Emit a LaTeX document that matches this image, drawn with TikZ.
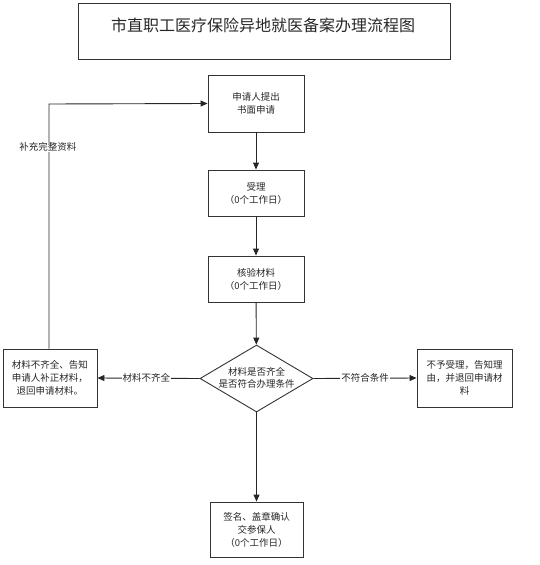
\documentclass[tikz,border=0pt]{standalone}
\usepackage{fontspec}
\setmainfont{Noto Sans CJK SC}
\usetikzlibrary{arrows.meta,shapes.geometric}
\begin{document}
\begin{tikzpicture}[x=1pt,y=-1pt,
  box/.style={draw=black!80,line width=0.9pt,inner sep=0pt,align=center,font=\fontsize{9.5}{13}\selectfont,text=black!85},
  conn/.style={draw=black!85,line width=0.9pt},
  arr/.style={conn,-{Triangle[length=7pt,width=6pt]}},
  lbl/.style={fill=white,inner sep=1pt,font=\fontsize{9.5}{12}\selectfont,text=black!85}]
\useasboundingbox (0,0) rectangle (539,565);
\node[box,minimum width=372pt,minimum height=56pt] (title) at (264,31) {};
\node[font=\fontsize{16}{20}\selectfont,text=black!85] (titletext) at (263,25) {市直职工医疗保险异地就医备案办理流程图};
\node[box,minimum width=96pt,minimum height=57pt] (apply) at (256,103.5) {申请人提出\\书面申请};
\node[box,minimum width=96pt,minimum height=46pt] (accept) at (256,193) {受理\\（0个工作日）};
\node[box,minimum width=96pt,minimum height=46pt] (check) at (256,279) {核验材料\\（0个工作日）};
\node[draw=black!80,line width=0.9pt,diamond,aspect=1.7,minimum width=113pt,minimum height=67pt,inner sep=0pt] (dec) at (256.5,378.5) {};
\node[align=center,font=\fontsize{9.5}{12}\selectfont,text=black!85] (dectext) at (256.5,378) {材料是否齐全\\是否符合办理条件};
\node[box,minimum width=94pt,minimum height=58pt] (left) at (50,378) {材料不齐全、告知\\申请人补正材料，\\退回申请材料。};
\node[box,minimum width=95pt,minimum height=58pt] (right) at (464.5,378) {不予受理，告知理\\由，并退回申请材\\料};
\node[box,minimum width=93pt,minimum height=55pt] (sign) at (256.5,529.5) {签名、盖章确认\\交参保人\\（0个工作日）};
\coordinate (corner) at (49,104);
\draw[arr] (apply) -- (accept);
\draw[arr] (accept) -- (check);
\draw[arr] (check) -- (dec);
\draw[arr] (dec) -- (sign);
\draw[arr] (dec.west) -- node[lbl,pos=0.52] (l1) {材料不齐全} (left.east);
\draw[arr] (dec.east) -- node[lbl,pos=0.5] (l2) {不符合条件} (right.west);
\draw[arr] (left.north -| corner) -- (corner) -- (apply.west);
\node[lbl] (l3) at (48,147) {补充完整资料};
\end{tikzpicture}
\end{document}
